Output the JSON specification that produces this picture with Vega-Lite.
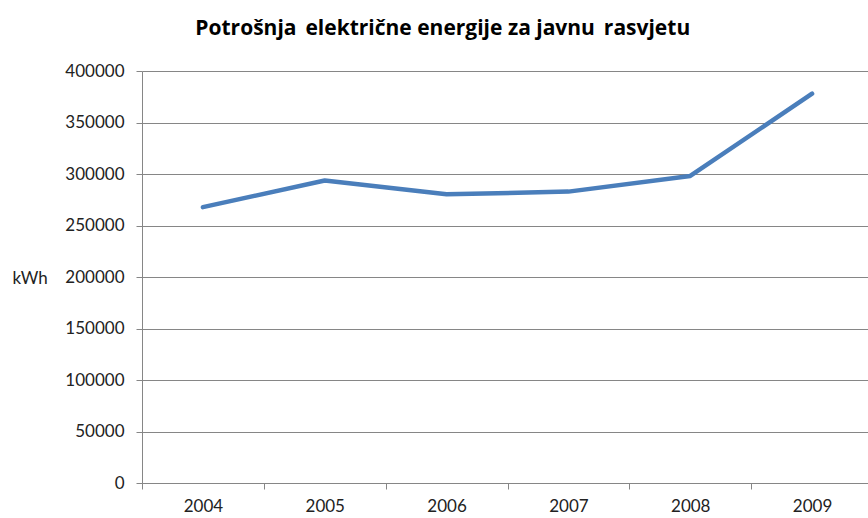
{
  "$schema": "https://vega.github.io/schema/vega-lite/v6.json",
  "autosize": "none",
  "padding": {"left": 142, "top": 71, "right": 0, "bottom": 35},
  "width": 726,
  "height": 412,
  "background": "white",
  "title": {
    "text": "Potrošnja\u2009 električne energije za javnu\u2009 rasvjetu",
    "font": "Open Sans",
    "fontSize": 21,
    "fontWeight": "bold",
    "color": "#000000",
    "anchor": "middle",
    "frame": "bounds",
    "offset": 23
  },
  "data": {
    "values": [
      {"year": "2004", "kwh": 267800},
      {"year": "2005", "kwh": 293700},
      {"year": "2006", "kwh": 280300},
      {"year": "2007", "kwh": 282900},
      {"year": "2008", "kwh": 298100},
      {"year": "2009", "kwh": 378000}
    ]
  },
  "mark": {"type": "line", "color": "#4a7ebb", "strokeWidth": 4.5, "strokeCap": "round", "strokeJoin": "round"},
  "encoding": {
    "x": {
      "field": "year",
      "type": "ordinal",
      "scale": {"type": "band", "range": [0, 731], "paddingInner": 0, "paddingOuter": 0},
      "axis": {
        "title": null,
        "labelAngle": 0,
        "tickBand": "extent",
        "grid": false,
        "domainColor": "#868686",
        "tickColor": "#868686",
        "tickSize": 6,
        "labelPadding": 9,
        "labelFont": "Lato",
        "labelFontSize": 17,
        "labelColor": "#222222"
      }
    },
    "y": {
      "field": "kwh",
      "type": "quantitative",
      "scale": {"domain": [0, 400000], "nice": false, "zero": true},
      "axis": {
        "values": [0, 50000, 100000, 150000, 200000, 250000, 300000, 350000, 400000],
        "format": "d",
        "title": "kWh",
        "titleAngle": 0,
        "titleAlign": "left",
        "titleBaseline": "middle",
        "titleX": -130,
        "titleY": 207,
        "titleFont": "Lato",
        "titleFontSize": 17,
        "titleFontWeight": "normal",
        "titleColor": "#222222",
        "gridColor": "#868686",
        "gridWidth": 1,
        "domainColor": "#868686",
        "tickColor": "#868686",
        "tickSize": 6,
        "labelPadding": 12,
        "labelFont": "Lato",
        "labelFontSize": 17,
        "labelColor": "#222222"
      }
    }
  },
  "config": {"view": {"stroke": null}}
}
